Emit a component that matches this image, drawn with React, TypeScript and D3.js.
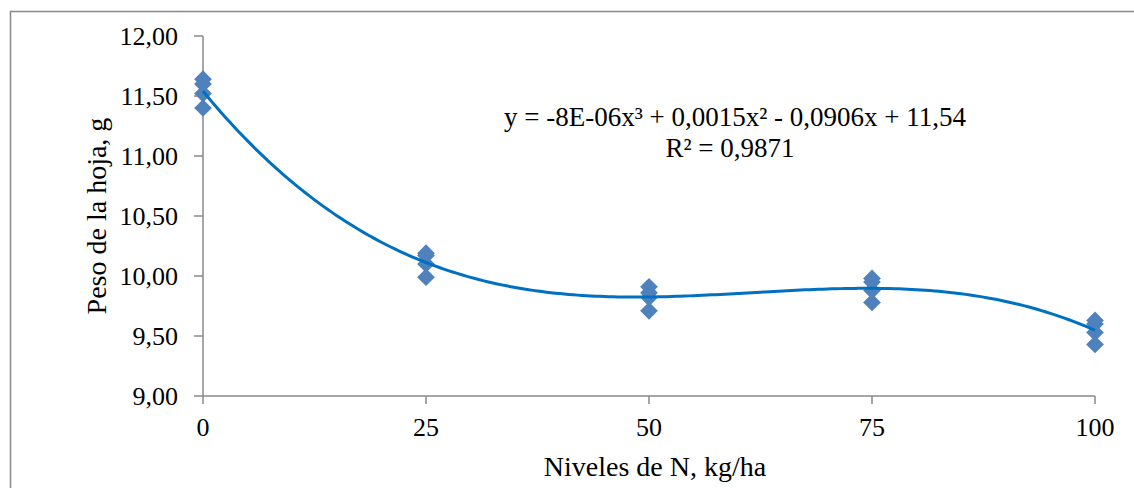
import React from "react";
import * as d3 from "d3";

// Nitrogen levels (kg/ha) and leaf weight replicates (g)
const nitrogenLevels = [0, 25, 50, 75, 100];
const leafWeightRep1 = [11.64, 10.19, 9.91, 9.98, 9.63];
const leafWeightRep2 = [11.6, 10.17, 9.86, 9.95, 9.6];
const leafWeightRep3 = [11.52, 10.1, 9.82, 9.88, 9.53];
const leafWeightRep4 = [11.4, 9.99, 9.71, 9.78, 9.43];
const yTicks = [9, 9.5, 10, 10.5, 11, 11.5, 12];
const xTicks = [0, 25, 50, 75, 100];
const equationText = "y = -8E-06x³ + 0,0015x² - 0,0906x + 11,54";
const r2Text = "R² = 0,9871";

const W = 1134;
const H = 488;
const FONT = "'Liberation Serif', 'Times New Roman', serif";

// least-squares polynomial fit (cubic) via normal equations
function polyFit(xs: number[], ys: number[], degree: number): number[] {
  const n = degree + 1;
  const A: number[][] = Array.from({ length: n }, () => Array(n + 1).fill(0));
  xs.forEach((x, k) => {
    for (let i = 0; i < n; i++) {
      for (let j = 0; j < n; j++) A[i][j] += Math.pow(x, i + j);
      A[i][n] += Math.pow(x, i) * ys[k];
    }
  });
  for (let c = 0; c < n; c++) {
    let p = c;
    for (let r = c + 1; r < n; r++) if (Math.abs(A[r][c]) > Math.abs(A[p][c])) p = r;
    [A[c], A[p]] = [A[p], A[c]];
    for (let r = 0; r < n; r++) {
      if (r === c) continue;
      const f = A[r][c] / A[c][c];
      for (let k = c; k <= n; k++) A[r][k] -= f * A[c][k];
    }
  }
  return A.map((row, i) => row[n] / A[i][i]);
}

export default function App() {
  const x = d3.scaleLinear().domain([0, 100]).range([203, 1095]);
  const y = d3.scaleLinear().domain([9, 12]).range([396, 36]);

  const reps = [leafWeightRep1, leafWeightRep2, leafWeightRep3, leafWeightRep4];
  const points = reps.flatMap((rep) => rep.map((v, i) => ({ n: nitrogenLevels[i], v })));

  const coef = polyFit(points.map((p) => p.n), points.map((p) => p.v), 3);
  const fitAt = (t: number) => coef.reduce((s, c, i) => s + c * Math.pow(t, i), 0);
  const curveData = d3.range(0, 100.01, 0.5).map((t) => [t, fitAt(t)] as [number, number]);
  const line = d3
    .line<[number, number]>()
    .x((d) => x(d[0]))
    .y((d) => y(d[1]))
    .curve(d3.curveLinear);

  const diamond = d3.symbol().type(d3.symbolDiamond2).size(200)();
  const axisColor = "#898989";

  return (
    <svg width={W} height={H} style={{ position: "absolute", left: 0, top: 0 }} fontFamily={FONT}>
      <rect x={0} y={0} width={W} height={H} fill="#fff" />
      <rect x={10.5} y={11.5} width={W} height={H} fill="none" stroke={axisColor} strokeWidth={1.5} />

      {/* y axis */}
      <line x1={x(0)} x2={x(0)} y1={y(12)} y2={y(9)} stroke={axisColor} strokeWidth={1.5} />
      {yTicks.map((t) => (
        <g key={t}>
          <line x1={x(0) - 9} x2={x(0)} y1={y(t)} y2={y(t)} stroke={axisColor} strokeWidth={1.5} />
          <text x={178} y={y(t)} dy="0.35em" textAnchor="end" fontSize={26} fill="#000">
            {d3.format(".2f")(t).replace(".", ",")}
          </text>
        </g>
      ))}

      {/* x axis */}
      <line x1={x(0)} x2={x(100)} y1={y(9)} y2={y(9)} stroke={axisColor} strokeWidth={1.5} />
      {xTicks.map((t) => (
        <g key={t}>
          <line x1={x(t)} x2={x(t)} y1={y(9)} y2={y(9) + 8} stroke={axisColor} strokeWidth={1.5} />
          <text x={x(t)} y={436} textAnchor="middle" fontSize={26} fill="#000">
            {t}
          </text>
        </g>
      ))}

      {/* data points */}
      {points.map((p, i) => (
        <path key={i} d={diamond ?? ""} transform={`translate(${x(p.n)},${y(p.v)})`} fill="#4F81BD" />
      ))}

      {/* cubic trend line */}
      <path d={line(curveData) ?? ""} fill="none" stroke="#0070C0" strokeWidth={3} />

      {/* equation */}
      <text x={735} y={126} textAnchor="middle" fontSize={27} fill="#000">
        {equationText}
      </text>
      <text x={730} y={157} textAnchor="middle" fontSize={27} fill="#000">
        {r2Text}
      </text>

      {/* axis titles */}
      <text x={655} y={476} textAnchor="middle" fontSize={28} fill="#000">
        Niveles de N, kg/ha
      </text>
      <text transform={`translate(106,216) rotate(-90)`} textAnchor="middle" fontSize={28} fill="#000">
        Peso de la hoja, g
      </text>
    </svg>
  );
}
